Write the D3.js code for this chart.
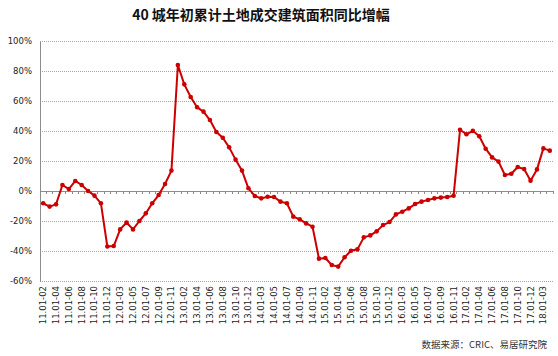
<!DOCTYPE html>
<html><head><meta charset="utf-8">
<script src="https://cdn.jsdelivr.net/npm/d3@7"></script>
<style>body{margin:0;background:#fff;} svg{display:block;}</style>
</head><body>
<script>
const titleText = "40 城年初累计土地成交建筑面积同比增幅";
const sourceText = "数据来源：CRIC、易居研究院";
const years = ["11","12","13","14","15","16","17"];
const months = ["02","03","04","05","06","07","08","09","10","11","12"];
const lastYear = "18";
const lastMonths = ["02","03","04"];
const values = [
 -8.2,-10.4,-8.9,4.0,1.3,6.7,4.0,0.0,-3.1,-8.2,-37.0,
 -36.7,-25.6,-21.0,-25.6,-20.0,-14.9,-8.2,-2.7,4.7,13.6,84.0,
 71.1,62.7,55.8,52.9,47.3,39.3,35.5,29.1,20.9,13.6,1.8,
 -3.3,-4.9,-3.8,-4.0,-7.1,-8.2,-17.1,-18.9,-21.6,-23.8,-45.1,
 -44.7,-49.3,-50.4,-44.2,-39.8,-38.9,-30.9,-29.6,-26.9,-22.7,-20.7,
 -15.6,-13.8,-11.6,-8.7,-7.1,-6.0,-4.9,-4.4,-4.0,-3.1,40.8,
 37.8,40.1,36.5,28.2,22.4,19.6,10.7,11.5,16.0,14.6,6.9,
 14.4,28.4,26.9
];
const yTicks = [-60,-40,-20,0,20,40,60,80,100];

const categories = [];
years.forEach(y => months.forEach(m => categories.push(y + ".01-" + m)));
lastMonths.forEach(m => categories.push(lastYear + ".01-" + m));
const data = categories.map((c, i) => ({c, v: values[i]}));

const W = 558, H = 356;
const svg = d3.select("body").append("svg").attr("width", W).attr("height", H);

const x = d3.scaleBand().domain(categories).range([40, 553]).padding(0);
const y = d3.scaleLinear().domain([-60, 100]).range([281, 41]);

// title
svg.append("text").attr("x", 261).attr("y", 20).attr("text-anchor", "middle")
  .attr("font-family", "'Noto Sans CJK SC'").attr("font-weight", "bold")
  .attr("font-size", 14).attr("fill", "#111").text(titleText);

// gridlines
svg.append("g").selectAll("line").data(yTicks.filter(t => t !== 0)).join("line")
  .attr("x1", 40).attr("x2", 553).attr("y1", d => y(d)).attr("y2", d => y(d))
  .attr("stroke", "#a6a6a6").attr("stroke-width", 1).attr("stroke-dasharray", "1,1")
  .attr("shape-rendering", "crispEdges");

// y axis
const yAxis = d3.axisLeft(y).tickValues(yTicks).tickFormat(d => d + "%").tickSize(0).tickPadding(8);
const gy = svg.append("g").attr("transform", "translate(40,0)").call(yAxis);
gy.select(".domain").attr("stroke", "#8c8c8c").attr("shape-rendering", "crispEdges");
gy.selectAll("text").attr("font-family", "'DejaVu Sans'").attr("font-size", 8.5).attr("fill", "#222");

// x axis at zero line with ticks at band boundaries
const gx = svg.append("g").attr("transform", `translate(0,${y(0)})`);
gx.append("line").attr("x1", 40).attr("x2", 553).attr("y1", 0).attr("y2", 0)
  .attr("stroke", "#8c8c8c").attr("shape-rendering", "crispEdges");
const bounds = categories.map(c => x(c)).concat([x(categories[categories.length-1]) + x.step()]);
gx.selectAll("line.tk").data(bounds).join("line").attr("class", "tk")
  .attr("x1", d => d).attr("x2", d => d).attr("y1", 0).attr("y2", 3)
  .attr("stroke", "#8c8c8c").attr("shape-rendering", "crispEdges");

// x labels (every other category)
const xAxis = d3.axisBottom(x).tickValues(categories.filter((c, i) => i % 2 === 0)).tickSize(0).tickPadding(0);
const gxl = svg.append("g").attr("transform", "translate(0,281)").call(xAxis);
gxl.select(".domain").remove();
gxl.selectAll("text").attr("font-family", "'DejaVu Sans'").attr("font-size", 8.5).attr("fill", "#222")
  .attr("text-anchor", "end").attr("dy", "0.35em")
  .attr("transform", "translate(0,5) rotate(-90)").attr("x", 0).attr("y", 0);

// line
const line = d3.line().x(d => x(d.c) + x.bandwidth() / 2).y(d => y(d.v));
svg.append("path").datum(data).attr("d", line).attr("fill", "none")
  .attr("stroke", "#cc0000").attr("stroke-width", 2).attr("stroke-linejoin", "round");
svg.append("g").selectAll("circle").data(data).join("circle")
  .attr("cx", d => x(d.c) + x.bandwidth() / 2).attr("cy", d => y(d.v)).attr("r", 2.3)
  .attr("fill", "#cc0000");

// source
svg.append("text").attr("x", 547).attr("y", 348).attr("text-anchor", "end")
  .attr("font-family", "'Noto Sans CJK SC'").attr("font-size", 9.5).attr("fill", "#333").text(sourceText);
</script>
</body></html>
